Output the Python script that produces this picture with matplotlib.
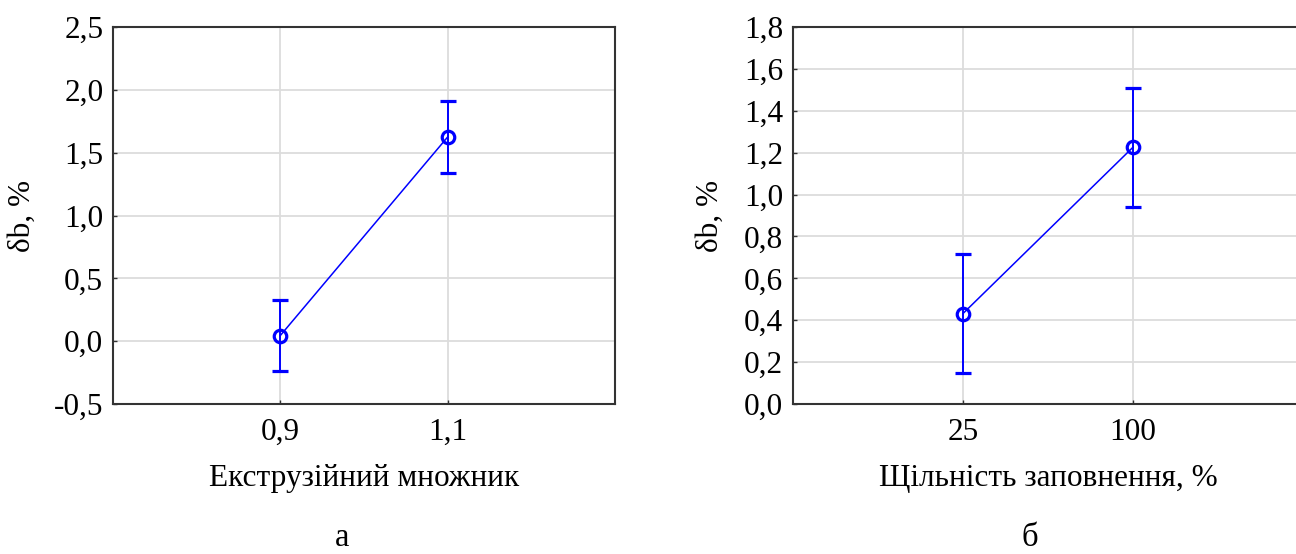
import numpy as np
import matplotlib
matplotlib.use("Agg")
import matplotlib.pyplot as plt

plt.rcParams['font.family'] = ['Liberation Serif', 'DejaVu Serif']

# panel a
labels_a = ['0,9', '1,1']
mean_a = [0.045, 1.625]
err_a = [0.285, 0.285]

# panel b
labels_b = ['25', '100']
mean_b = [0.432, 1.226]
err_b = [0.284, 0.284]

yticks_a = [-0.5, 0.0, 0.5, 1.0, 1.5, 2.0, 2.5]
yticks_b = [0.0, 0.2, 0.4, 0.6, 0.8, 1.0, 1.2, 1.4, 1.6, 1.8]

W, H = 1296, 554
fs = 22.5
fig = plt.figure(figsize=(W / 100, H / 100), dpi=100)
ax1 = fig.add_axes([113 / W, 150 / H, 502 / W, 377 / H])
ax2 = fig.add_axes([793 / W, 150 / H, 510 / W, 377 / H])

def panel(ax, labels, mean, err, yticks, xlabel, ylabel_x):
    x = np.arange(1, len(labels) + 1)
    ax.errorbar(x, mean, yerr=err, color='#0000ff', lw=1.1, capsize=6.1,
                capthick=1.3, elinewidth=1.4, marker='o', ms=9,
                mfc='none', mec='#0000ff', mew=2.3, zorder=3)
    ax.set_xlim(0, 3)
    ax.set_ylim(yticks[0], yticks[-1])
    ax.set_xticks(x)
    ax.set_xticklabels(labels)
    ax.set_yticks(yticks)
    ax.set_yticklabels([f'{v:.1f}'.replace('.', ',') for v in yticks])
    ax.grid(True, color='#dcdcdc', lw=1.3, zorder=0)
    ax.tick_params(direction='in', length=3, width=1, colors='#333333',
                   labelcolor='black', labelsize=fs)
    ax.tick_params(axis='y', pad=7)
    ax.tick_params(axis='x', pad=10)
    for s in ax.spines.values():
        s.set_color('#333333')
        s.set_linewidth(1.5)
    ax.set_xlabel(xlabel, fontsize=fs, labelpad=12)
    ax.set_ylabel('δb, %', fontsize=fs)
    ax.yaxis.set_label_coords(ylabel_x, 0.5)

panel(ax1, labels_a, mean_a, err_a, yticks_a, 'Екструзійний множник', -0.152)
panel(ax2, labels_b, mean_b, err_b, yticks_b, 'Щільність заповнення, %', -0.133)

fig.text(342 / W, 1 - 553 / H, 'а', ha='center', va='bottom', fontsize=fs + 1)
fig.text(1030 / W, 1 - 553 / H, 'б', ha='center', va='bottom', fontsize=fs + 1)

fig.savefig('out.png', dpi=100, facecolor='white')
